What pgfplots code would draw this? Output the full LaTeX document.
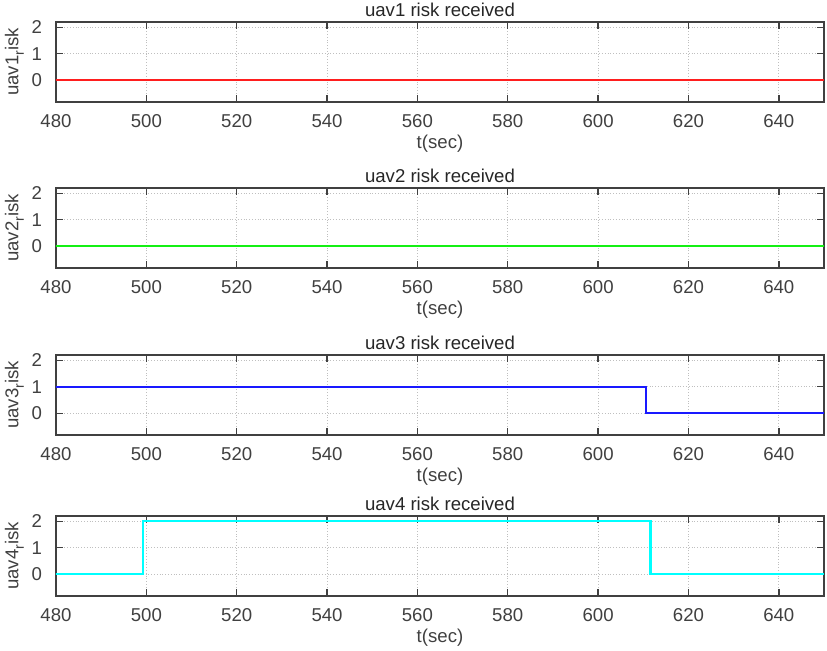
\documentclass[border=0pt]{standalone}
\usepackage{fontspec}
\setmainfont{Liberation Sans}
\usepackage{pgfplots}
\pgfplotsset{compat=1.18}
\definecolor{axgray}{RGB}{64,64,64}
\definecolor{mred}{RGB}{255,30,30}
\definecolor{mgreen}{RGB}{20,240,20}
\definecolor{mblue}{RGB}{25,25,255}
\definecolor{mcyan}{RGB}{0,255,255}
\newcommand{\sub}[1]{\raisebox{-0.55ex}{\fontsize{7}{8}\selectfont #1}}
\pgfplotsset{riskax/.style={
  width=384pt,height=40pt,scale only axis,
  anchor=north west,
  xmin=480,xmax=650,ymin=-0.82,ymax=2.2,
  xtick={480,500,...,640},ytick={0,1,2},
  grid=major,grid style={densely dotted,black!25,line width=0.4pt},
  axis line style={draw=axgray,line width=0.9pt},
  tick style={draw=axgray,line width=0.7pt},
  tick align=inside,major tick length=3.5pt,
  xtick pos=both,ytick pos=both,
  /pgf/number format/assume math mode=true,
  tick label style={font=\fontsize{9.3}{10}\selectfont,text=axgray},
  xticklabel style={yshift=-2.8pt},
  yticklabel style={xshift=-3.5pt},
  label style={font=\fontsize{9.3}{10}\selectfont,text=axgray},
  xlabel={t(sec)},
  xlabel style={yshift=3.5pt},
  ylabel style={yshift=-3pt},
  title style={font=\fontsize{9.3}{10}\selectfont,text=black!85,yshift=-7pt},
  clip=true,
}}
\begin{document}
\begin{tikzpicture}
\begin{axis}[riskax,at={(0pt,0pt)},title={uav1 risk received},ylabel={uav1\sub{r}isk}]
\addplot[mred,line width=1pt] coordinates {(470,0) (660,0)};
\end{axis}
\begin{axis}[riskax,at={(0pt,-83pt)},title={uav2 risk received},ylabel={uav2\sub{r}isk}]
\addplot[mgreen,line width=1pt] coordinates {(470,0) (660,0)};
\end{axis}
\begin{axis}[riskax,at={(0pt,-166.5pt)},title={uav3 risk received},ylabel={uav3\sub{r}isk}]
\addplot[mblue,line width=1pt] coordinates {(470,1) (610.6,1) (610.6,0) (660,0)};
\end{axis}
\begin{axis}[riskax,at={(0pt,-247pt)},title={uav4 risk received},ylabel={uav4\sub{r}isk}]
\addplot[mcyan,line width=1.2pt] coordinates {(470,0) (499.2,0) (499.2,2) (611.6,2) (611.6,0) (660,0)};
\end{axis}
\pgfresetboundingbox
\path[use as bounding box] (-28pt,11pt) rectangle (385.5pt,-314.5pt);
\end{tikzpicture}
\end{document}
